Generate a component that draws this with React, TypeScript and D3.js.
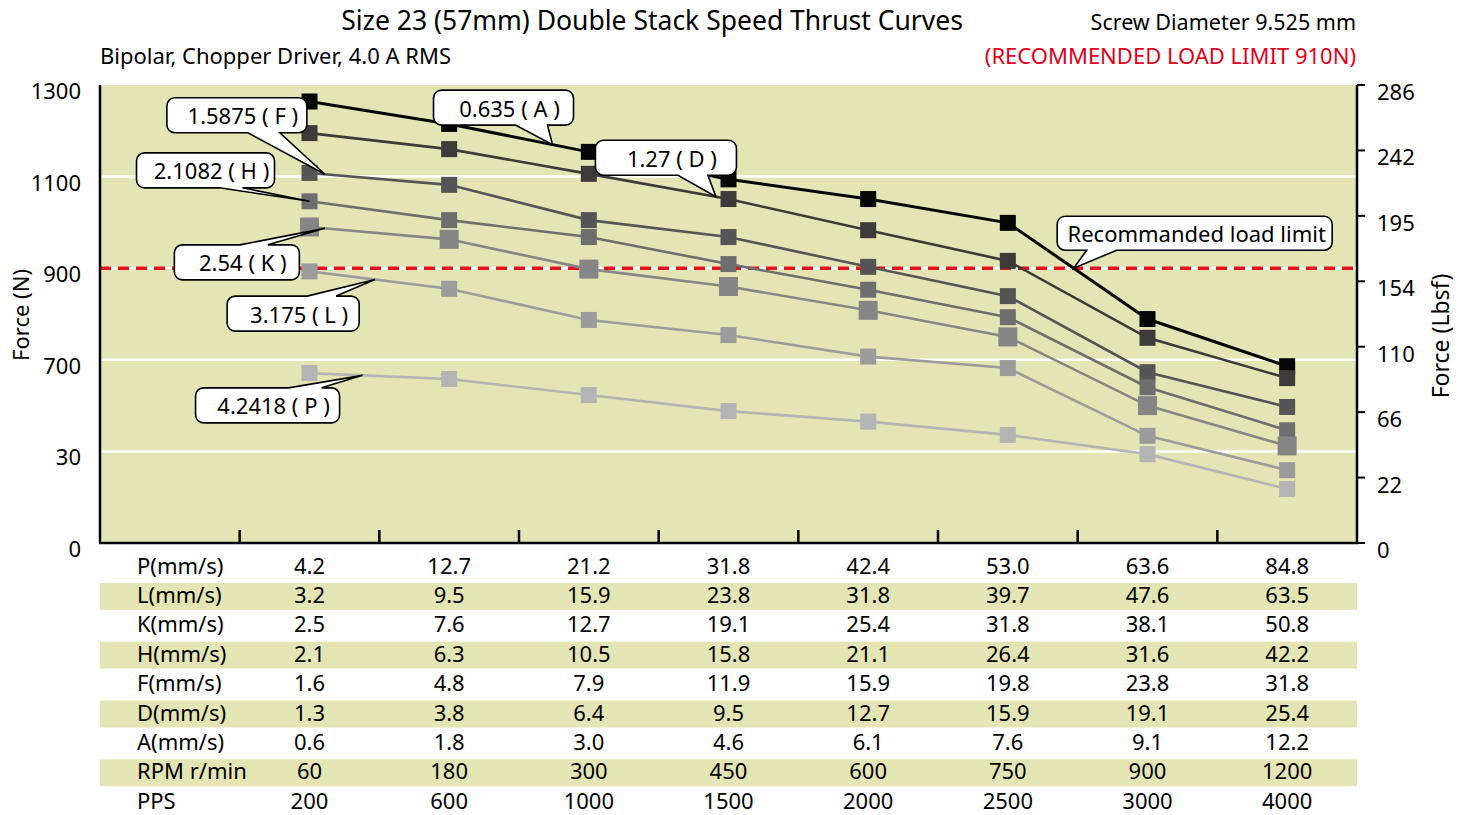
import React from "react";
import * as d3 from "d3";

// speed columns (pulses per second)
const pps = ["200", "600", "1000", "1500", "2000", "2500", "3000", "4000"];

const seriesKeys = ["A", "D", "F", "H", "K", "L", "P"];
const seriesLabels = ["0.635 ( A )", "1.27 ( D )", "1.5875 ( F )", "2.1082 ( H )", "2.54 ( K )", "3.175 ( L )", "4.2418 ( P )"];
const seriesColors = ["#050505", "#3d3a3a", "#555555", "#6e6e6e", "#868686", "#9c9c9c", "#b4b4b4"];

// thrust in N
const thrustA = [1264, 1215, 1154, 1094, 1051, 999, 789, 686];
const thrustD = [1195, 1160, 1106, 1051, 983, 916, 748, 660];
const thrustF = [1108, 1082, 1005, 968, 903, 839, 673, 597];
const thrustH = [1046, 1005, 968, 909, 853, 793, 640, 546];
const thrustK = [990, 963, 898, 860, 808, 750, 600, 512];
const thrustL = [893, 855, 787, 754, 707, 682, 534, 459];
const thrustP = [671, 658, 623, 588, 565, 536, 494, 418];
const thrust = [thrustA, thrustD, thrustF, thrustH, thrustK, thrustL, thrustP];

const leftTicks = [300, 500, 700, 900, 1100, 1300];
const leftTickLabels = ["0", "30", "700", "900", "1100", "1300"];
const rightTickLabels = ["0", "22", "66", "110", "154", "195", "242", "286"];
const loadLimit = 900;

const rowLabels = ["P(mm/s)", "L(mm/s)", "K(mm/s)", "H(mm/s)", "F(mm/s)", "D(mm/s)", "A(mm/s)", "RPM r/min", "PPS"];
const rowP = ["4.2", "12.7", "21.2", "31.8", "42.4", "53.0", "63.6", "84.8"];
const rowL = ["3.2", "9.5", "15.9", "23.8", "31.8", "39.7", "47.6", "63.5"];
const rowK = ["2.5", "7.6", "12.7", "19.1", "25.4", "31.8", "38.1", "50.8"];
const rowH = ["2.1", "6.3", "10.5", "15.8", "21.1", "26.4", "31.6", "42.2"];
const rowF = ["1.6", "4.8", "7.9", "11.9", "15.9", "19.8", "23.8", "31.8"];
const rowD = ["1.3", "3.8", "6.4", "9.5", "12.7", "15.9", "19.1", "25.4"];
const rowA = ["0.6", "1.8", "3.0", "4.6", "6.1", "7.6", "9.1", "12.2"];
const rowRPM = ["60", "180", "300", "450", "600", "750", "900", "1200"];
const rowValues = [rowP, rowL, rowK, rowH, rowF, rowD, rowA, rowRPM, pps];

// callout boxes: series, position along the curve (t), box centre offset from the tip, pointer base
const callouts = [
  { s: 0, t: 1.74, dx: -49, dy: -37, w: 140, edge: "bottom", b1: 12, b2: 44 },
  { s: 1, t: 2.91, dx: -50, dy: -39, w: 141, edge: "bottom", b1: 12, b2: 42 },
  { s: 2, t: 0.11, dx: -88, dy: -59, w: 140, edge: "bottom", b1: 11, b2: 43 },
  { s: 3, t: 0, dx: -104, dy: -31, w: 138, edge: "bottom", b1: 14, b2: 37 },
  { s: 4, t: 0.11, dx: -88, dy: 34, w: 125, edge: "top", b1: 3, b2: 31 },
  { s: 5, t: 0.47, dx: -82, dy: 34, w: 132, edge: "top", b1: 14, b2: 43 },
  { s: 6, t: 0.38, dx: -95, dy: 30, w: 144, edge: "top", b1: 21, b2: 54 },
];

const font = "'Noto Sans', 'Open Sans', sans-serif";

function calloutPath(x: number, y: number, w: number, h: number, r: number, edge: string, b1: number, b2: number, tx: number, ty: number) {
  const p = d3.path();
  p.moveTo(x + r, y);
  if (edge === "top") {
    p.lineTo(b1, y);
    p.lineTo(tx, ty);
    p.lineTo(b2, y);
  }
  p.lineTo(x + w - r, y);
  p.arcTo(x + w, y, x + w, y + r, r);
  p.lineTo(x + w, y + h - r);
  p.arcTo(x + w, y + h, x + w - r, y + h, r);
  if (edge === "bottom") {
    p.lineTo(b2, y + h);
    p.lineTo(tx, ty);
    p.lineTo(b1, y + h);
  }
  p.lineTo(x + r, y + h);
  p.arcTo(x, y + h, x, y + h - r, r);
  p.lineTo(x, y + r);
  p.arcTo(x, y, x + r, y, r);
  p.closePath();
  return p.toString();
}

const App = () => {
  const width = 1463;
  const height = 815;
  const plot = { left: 100, right: 1357, top: 85, bottom: 543 };

  const xScale = d3.scaleBand<string>().domain(["label", ...pps]).range([plot.left, plot.right]);
  const bw = xScale.bandwidth();
  const cx = (i: number) => (xScale(pps[i]) as number) + bw / 2;
  const yScale = d3.scaleLinear().domain([300, 1300]).range([plot.bottom, plot.top]);
  const yRight = d3.scaleLinear().domain([0, rightTickLabels.length - 1]).range([plot.bottom, plot.top]);

  const line = d3.line<number>().x((_, i) => cx(i)).y((d) => yScale(d));

  const along = (vals: number[], t: number) => {
    const i = Math.min(Math.floor(t), vals.length - 2);
    const f = t - i;
    return [cx(i) + f * (cx(i + 1) - cx(i)), yScale(vals[i]) + f * (yScale(vals[i + 1]) - yScale(vals[i]))];
  };

  // where the 0.635 curve crosses the load limit
  let limitT = 0;
  for (let i = 0; i < thrustA.length - 1; i++) {
    if (thrustA[i] >= loadLimit && thrustA[i + 1] < loadLimit) {
      limitT = i + (thrustA[i] - loadLimit) / (thrustA[i] - thrustA[i + 1]);
    }
  }
  const limitTip = along(thrustA, limitT);

  const rowH0 = 552.5;
  const rowStep = 29.4;

  const boxH = 35;
  const fs = 22;

  return (
    <svg width={width} height={height} style={{ position: "absolute", left: 0, top: 0, background: "#fff" }} fontFamily={font}>
      {/* titles */}
      <text x={652} y={20} fontSize={26.5} textAnchor="middle" dominantBaseline="central">Size 23 (57mm) Double Stack Speed Thrust Curves</text>
      <text x={100} y={55} fontSize={fs} dominantBaseline="central">Bipolar, Chopper Driver, 4.0 A RMS</text>
      <text x={1356} y={21} fontSize={21.5} textAnchor="end" dominantBaseline="central">Screw Diameter 9.525 mm</text>
      <text x={1356} y={55} fontSize={fs} textAnchor="end" dominantBaseline="central" fill="#e3001b">(RECOMMENDED LOAD LIMIT 910N)</text>

      {/* plot background */}
      <rect x={plot.left} y={plot.top} width={plot.right - plot.left} height={plot.bottom - plot.top} fill="#e4e5b4" />
      {leftTicks.slice(1, -1).map((t) => (
        <line key={t} x1={plot.left} x2={plot.right} y1={yScale(t)} y2={yScale(t)} stroke="#fff" strokeWidth={2.5} />
      ))}
      <line x1={plot.left} x2={plot.right} y1={yScale(loadLimit)} y2={yScale(loadLimit)} stroke="#e8101e" strokeWidth={3.5} strokeDasharray="11,7" />

      {/* curves */}
      {thrust.map((vals, s) => (
        <g key={seriesKeys[s]}>
          <path d={line(vals) as string} fill="none" stroke={seriesColors[s]} strokeWidth={s === 0 ? 3 : 2.6} />
          {vals.map((v, i) => {
            const sz = seriesKeys[s] === "K" ? 19 : 16;
            return <rect key={i} x={cx(i) - sz / 2} y={yScale(v) - sz / 2} width={sz} height={sz} fill={seriesColors[s]} />;
          })}
        </g>
      ))}

      {/* callouts */}
      {callouts.map((c, k) => {
        const [tx, ty] = along(thrust[c.s], c.t);
        const bx = tx + c.dx;
        const by = ty + c.dy;
        return (
          <g key={k}>
            <path d={calloutPath(bx - c.w / 2, by - boxH / 2, c.w, boxH, 8, c.edge, bx + c.b1, bx + c.b2, tx, ty)} fill="#fff" stroke="#000" strokeWidth={1.6} />
            <text x={bx + 6} y={by} fontSize={fs} textAnchor="middle" dominantBaseline="central">{seriesLabels[c.s]}</text>
          </g>
        );
      })}
      {(() => {
        const bx = limitTip[0] + 121;
        const by = limitTip[1] - 35;
        const w = 275;
        return (
          <g>
            <path d={calloutPath(bx - w / 2, by - 17, w, 34, 8, "bottom", bx - 108, bx - 78, limitTip[0], limitTip[1])} fill="#fff" stroke="#000" strokeWidth={1.6} />
            <text x={bx + 2} y={by} fontSize={fs} textAnchor="middle" dominantBaseline="central">Recommanded load limit</text>
          </g>
        );
      })()}

      {/* axes */}
      <line x1={plot.left} x2={plot.left} y1={plot.top} y2={plot.bottom} stroke="#000" strokeWidth={2.5} />
      <line x1={plot.right} x2={plot.right} y1={plot.top} y2={plot.bottom} stroke="#000" strokeWidth={2.5} />
      <line x1={plot.left - 1} x2={plot.right + 1} y1={plot.bottom} y2={plot.bottom} stroke="#000" strokeWidth={2.5} />
      {pps.map((p) => (
        <line key={p} x1={xScale(p)} x2={xScale(p)} y1={plot.bottom} y2={plot.bottom - 13} stroke="#000" strokeWidth={2.5} />
      ))}
      {leftTicks.map((t, i) => (
        <text key={t} x={81} y={yScale(t) + 5} fontSize={fs} textAnchor="end" dominantBaseline="central">{leftTickLabels[i]}</text>
      ))}
      {rightTickLabels.map((l, i) => (
        <g key={l}>
          <line x1={plot.right} x2={plot.right + 8} y1={yRight(i)} y2={yRight(i)} stroke="#000" strokeWidth={2} />
          <text x={1377} y={yRight(i) + 6} fontSize={fs} dominantBaseline="central">{l}</text>
        </g>
      ))}
      <text transform={`translate(20, 315) rotate(-90)`} fontSize={fs} textAnchor="middle" dominantBaseline="central">Force (N)</text>
      <text transform={`translate(1440, 336) rotate(-90)`} fontSize={23} textAnchor="middle" dominantBaseline="central">Force (Lbsf)</text>

      {/* speed table */}
      {rowLabels.map((r, ri) => {
        const top = rowH0 + ri * rowStep;
        return (
          <g key={r}>
            {ri % 2 === 1 && <rect x={plot.left} y={top + 1} width={plot.right - plot.left} height={27} fill="#e4e5b4" />}
            <text x={137} y={top + 12} fontSize={fs} dominantBaseline="central">{r}</text>
            {rowValues[ri].map((v, i) => (
              <text key={i} x={cx(i)} y={top + 12} fontSize={fs} textAnchor="middle" dominantBaseline="central">{v}</text>
            ))}
          </g>
        );
      })}
    </svg>
  );
};

export default App;
